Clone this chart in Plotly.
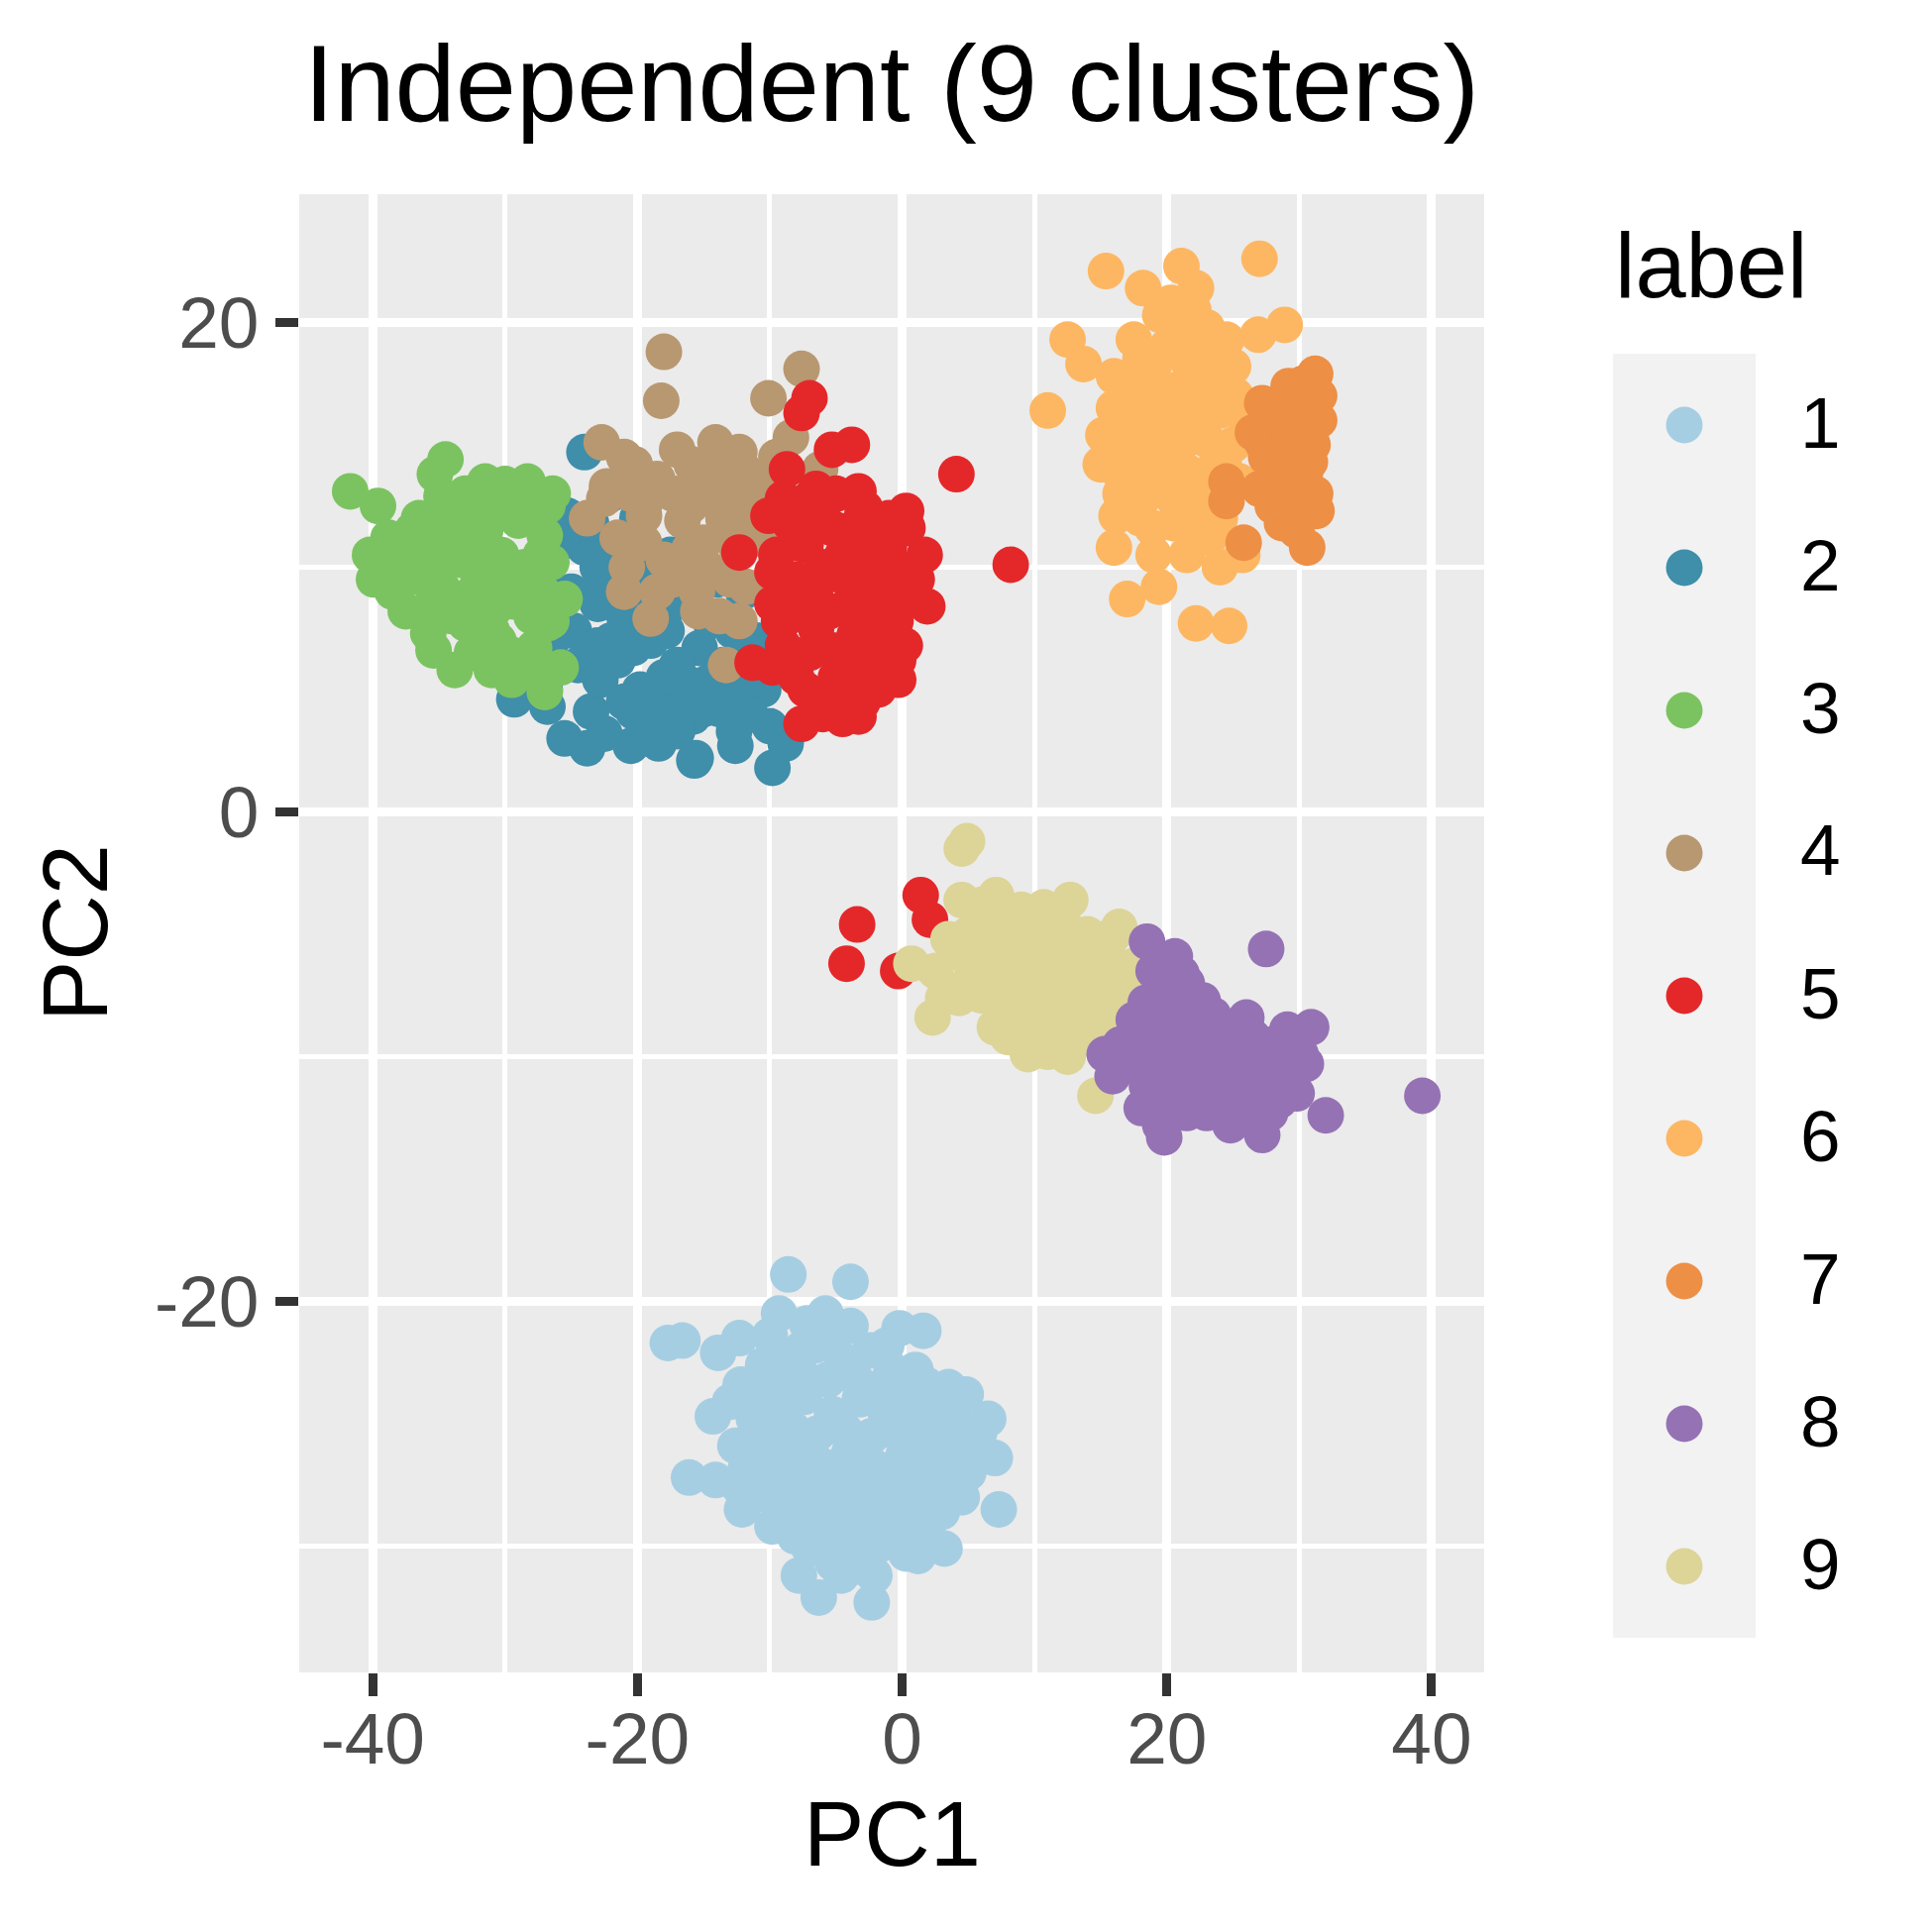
import plotly.graph_objects as go

W = H = 1950
FONT = "Liberation Sans, Arial, sans-serif"

# cluster labels and their colours (legend order)
cluster_labels = ["1", "2", "3", "4", "5", "6", "7", "8", "9"]
cluster_colors = ["#A6CEE3", "#3F8EAA", "#7BC360", "#B89871", "#E4282A",
                  "#FDB762", "#ED8F45", "#9572B4", "#DDD498"]

# PC1 / PC2 coordinates, one pair of lists per cluster
pc1_1 = [-8.6, -3.9, -9.3, -5.8, -3.9, -0.2, 1.6, -17.7, -16.6, -13.9, -12.3, -12.2, -14.3, -16.1, -14.1, -12.1,
         7.3, 7.0, 6.5, 4.8, 2.9, 0.2, -7.8, -6.3, -2.3, -2.1, 3.2, 1.2, -4.6, -8.1, 1.0,
         -10.5, -8.5, -6.6, -4.5, -2.4, -0.8, 1.8, -11.2, -9.3, -7.4, -5.3, -3.2, -1.2, 0.9, 3.1, 5.0,
         -10.3, -8.2, -6.1, -4.0, -2.0, 0.1, 2.2, 4.1, -11.0, -9.1, -6.9, -4.8, -3.1, -1.0, 0.6, 3.0, 5.0,
         -6.0, -4.1, -1.9, -0.2, -8.4, -12.6, -13.0, -7.2, -10.0, 1.0, 4.0, -5.0, -9.8, -3.5, 1.9,
         -9.5, -7.6, -5.6, -3.6, -1.6, 0.4, 2.4, -10.2, -8.3, -6.4, -4.3, -2.3, -0.3, 1.8, 3.6,
         -9.4, -7.3, -5.3, -3.2, -1.2, 0.8, 2.8, 4.6, -8.0, -6.2, -4.2, -2.2, -0.4, 1.5,
         -5.2, -7.0, -2.8, 0.3, -11.8, -11.8, -12.3, -7.5, -4.8, -1.2, 3.5, 5.8, 4.5]
pc2_1 = [-18.9, -19.2, -20.5, -20.5, -21.0, -21.1, -21.2, -21.7, -21.6, -22.1, -21.5, -23.4, -24.7, -27.2, -27.3, -28.5,
         -28.5, -26.4, -24.8, -23.8, -24.2, -23.0, -31.2, -32.1, -32.3, -31.2, -30.1, -30.4, -31.2, -29.6, -28.9,
         -22.6, -22.2, -21.8, -22.4, -22.0, -22.8, -23.4, -24.8, -24.3, -23.9, -24.6, -24.0, -24.7, -25.1, -25.6, -26.2,
         -26.6, -26.1, -26.7, -26.2, -26.8, -26.3, -27.1, -27.6, -27.9, -28.4, -28.1, -28.6, -28.0, -28.7, -27.8, -28.6, -27.0,
         -30.1, -29.6, -30.0, -29.4, -27.2, -25.9, -24.1, -20.9, -21.4, -22.8, -24.9, -27.5, -29.2, -30.5, -29.4,
         -23.3, -23.0, -23.2, -23.1, -23.5, -24.0, -24.9, -25.6, -25.2, -25.4, -25.3, -25.5, -25.4, -26.0, -26.6,
         -27.4, -27.0, -27.2, -27.3, -27.4, -27.2, -27.8, -26.0, -29.0, -29.2, -28.9, -29.1, -28.8, -28.4,
         -30.7, -30.1, -30.9, -30.3, -23.8, -26.8, -27.6, -21.9, -21.2, -21.8, -23.5, -25.4, -28.0]

pc1_2 = [-24.0, -22.0, -26.8, -29.3, -26.8, -25.5, -23.8, -20.5, -18.4, -15.7, -15.8, -12.7, -12.6, -8.8, -9.8,
         -23.5, -20.3, -17.8, -14.6, -24.8, -22.8, -20.3, -17.8, -15.3, -12.8, -16.6, -19.0, -21.5, -24.0, -25.3,
         -15.6, -12.6, -14.6, -11.8,
         -26.0, -25.0, -23.0, -21.0, -19.0, -18.0, -16.0, -13.5, -11.0, -10.5, -21.5, -23.5, -20.0, -17.5,
         -14.0, -12.0, -27.5, -28.0, -22.5, -19.2, -10.0, -13.8,
         -24.5, -22.0, -19.8, -17.0, -15.0, -13.0, -11.5, -23.0, -25.8, -22.5, -20.5, -18.2, -14.5, -12.2,
         -27.0, -26.2, -21.0, -17.0, -23.0, -19.0]
pc2_2 = [14.7, 13.0, 9.3, 4.6, 4.3, 3.0, 2.6, 2.7, 2.8, 2.1, 3.9, 3.3, 2.7, 2.8, 1.8,
         4.1, 4.1, 4.3, 5.0, 7.4, 5.4, 6.7, 7.4, 6.7, 7.4, 8.6, 10.1, 10.8, 10.8, 12.1,
         2.2, 3.5, 5.3, 5.8,
         6.0, 9.0, 8.5, 8.0, 8.5, 5.5, 5.2, 6.0, 7.0, 5.0, 6.2, 11.8, 12.0, 10.5,
         9.5, 9.0, 8.0, 6.0, 3.2, 3.4, 3.5, 4.2,
         6.0, 7.0, 5.0, 6.0, 4.2, 5.0, 4.0, 10.0, 11.0, 9.5, 9.0, 9.5, 7.8, 6.3,
         5.0, 7.2, 4.5, 3.3, 6.8, 7.0]

pc1_3 = [-41.7, -39.6, -34.5, -35.3, -34.8, -32.2, -30.0, -28.3, -26.4, -38.8, -40.2, -39.9, -37.5, -35.8, -35.4,
         -36.0, -33.0, -32.0, -29.5, -27.0, -25.5, -25.8, -27.8, -31.5, -29.0, -27.3, -30.3, -33.3, -29.3, -32.8,
         -34.8, -37.3, -31.0, -26.8, -27.8,
         -33.5, -31.0, -29.5, -28.0, -30.5, -36.8, -38.0, -34.0, -30.8, -27.0, -26.5, -28.8, -32.5,
         -36.5, -35.0, -33.0, -31.5, -29.5, -28.0, -26.8, -38.5, -35.5, -34.0, -31.8, -30.0, -28.5, -27.2,
         -33.8, -31.0, -29.8, -27.5, -36.0, -32.0, -26.5, -34.8, -37.0]
pc2_3 = [13.1, 12.5, 14.4, 13.8, 12.9, 12.7, 13.4, 13.5, 13.0, 11.2, 10.5, 9.5, 8.2, 7.3, 6.6,
         11.1, 7.7, 9.5, 5.4, 4.9, 8.7, 5.9, 6.7, 11.5, 11.9, 10.5, 10.5, 10.3, 8.6, 8.8,
         9.2, 10.4, 7.4, 7.7, 12.4,
         11.8, 12.5, 9.5, 8.0, 7.0, 9.6, 10.0, 10.6, 8.3, 11.3, 10.2, 5.9, 6.5,
         12.0, 11.5, 13.0, 13.5, 12.8, 12.0, 12.5, 9.0, 8.5, 8.0, 9.8, 9.0, 10.0, 9.0,
         5.8, 5.8, 6.5, 6.0, 10.0, 11.0, 7.8, 12.0, 11.5]

pc1_4 = [-18.0, -18.2, -7.6, -10.1, -8.4, -22.7, -14.1, -12.3, -15.9, -20.2, -22.3, -6.2, -23.8, -21.5, -19.5,
         -17.3, -14.8, -12.8, -11.1, -10.3, -13.1, -16.6, -17.3, -21.0, -19.0, -15.4, -12.3, -11.8, -13.3, -14.8,
         -16.1, -18.0,
         -20.5, -18.5, -16.0, -13.5, -11.5, -15.0, -17.0, -19.5, -13.0, -10.5, -22.5, -15.5,
         -21.0, -17.0, -14.0, -12.0, -19.5, -16.0, -12.5, -18.5, -15.5, -20.8, -13.8, -9.5]
pc2_4 = [18.8, 16.8, 18.1, 16.9, 15.3, 15.1, 15.1, 14.7, 14.2, 14.2, 13.3, 14.0, 12.0, 11.2, 12.1,
         13.0, 13.1, 12.7, 13.0, 11.1, 11.3, 11.9, 9.5, 9.0, 7.9, 8.2, 7.8, 9.2, 6.0, 10.0,
         10.7, 10.3,
         13.0, 13.6, 13.0, 12.0, 11.8, 11.0, 10.0, 11.0, 9.5, 13.5, 12.8, 9.0,
         14.5, 14.8, 13.8, 14.0, 12.5, 12.5, 10.8, 9.0, 10.0, 10.0, 8.0, 14.5]

pc1_5 = [-7.0, -7.6, -5.3, -3.8, 4.1, 8.2, -8.7, -6.5, -3.3, -2.8, -10.1, 0.4, 1.7, 1.1, 1.9, -1.8, 0.2, -0.3,
         -3.3, -7.6, -11.3, -9.8, -7.3, -4.8, -2.3, -9.3, -7.3, -4.8, -2.3, -7.3, -12.3, -9.8, -3.6, -1.1, -5.3, -5.3,
         1.4, 2.1, -3.4, -4.2, -0.3,
         -6.0, -4.0, -2.0, -0.5, -8.5, -6.0, -3.5, -1.5, -8.0, -5.5, -3.0, -1.0, -7.0, -9.0, -4.0, -1.8, -6.0, 0.3, -9.8,
         -9.0, -7.0, -5.0, -3.0, -1.0, -8.0, -4.5, -1.0, 0.8, -9.5, -6.5, -4.0, -2.0, -0.5, -8.5, -6.5,
         -2.5, -0.3, -8.0, -5.0, -3.0, -4.5, -6.0]
pc2_5 = [16.9, 16.3, 14.8, 15.0, 13.8, 10.1, 14.0, 13.2, 13.1, 12.4, 12.1, 11.6, 10.5, 9.5, 8.4, 8.1, 6.8, 5.4,
         3.9, 3.6, 6.1, 5.9, 5.0, 4.8, 5.9, 7.8, 8.6, 9.7, 10.6, 10.9, 10.6, 9.8, 7.2, 8.9, 11.6, 6.6,
         -3.4, -4.4, -4.6, -6.2, -6.5,
         12.0, 11.5, 11.0, 10.0, 11.8, 10.0, 9.5, 9.5, 9.5, 8.2, 7.5, 7.0, 6.5, 6.8, 5.8, 5.0, 4.2, 12.3, 8.5,
         12.8, 12.8, 13.0, 12.2, 12.0, 11.0, 10.5, 10.8, 9.0, 10.5, 9.2, 8.5, 8.5, 7.8, 8.0, 7.5,
         6.5, 6.2, 5.5, 5.5, 4.5, 3.8, 4.0]

pc1_6 = [15.4, 18.2, 21.1, 22.2, 27.0, 20.9, 12.5, 13.7, 11.0, 26.9, 28.9, 16.2, 16.0, 17.0, 19.4, 22.2,
         24.7, 24.0, 18.9, 21.5, 25.7, 24.0,
         19.5, 21.0, 22.5, 20.0, 18.0, 21.5, 23.5, 25.0, 17.0, 19.0, 21.0, 23.0, 25.2, 16.0, 18.0, 20.0, 22.0,
         24.0, 26.0, 15.2, 17.0, 19.0, 21.0, 23.0, 25.0, 15.0, 17.5, 19.5, 21.5, 23.5, 16.5, 18.5, 20.5, 22.5,
         24.0, 18.0, 20.5, 22.0, 20.3, 22.0, 16.0, 24.5,
         17.5, 19.0, 23.0, 24.0, 16.5, 18.5, 20.5, 22.5, 24.3, 17.3, 19.5, 21.8, 23.2, 19.0, 25.5, 16.2]
pc2_6 = [22.1, 21.4, 22.3, 21.4, 22.6, 20.3, 19.3, 18.3, 16.4, 19.5, 19.9, 12.1, 10.8, 8.7, 9.2, 7.7,
         7.6, 10.0, 11.6, 10.5, 10.5, 12.0,
         20.3, 19.8, 19.5, 19.0, 18.5, 18.5, 18.6, 18.2, 17.5, 17.6, 17.3, 17.5, 17.0, 16.5, 16.3, 16.4, 16.2,
         16.4, 16.0, 15.4, 15.2, 15.3, 15.0, 15.2, 15.0, 14.2, 14.0, 14.2, 13.9, 14.0, 13.0, 13.0, 12.8, 13.0,
         12.7, 12.0, 11.8, 11.5, 20.8, 20.5, 17.8, 19.3,
         19.3, 18.2, 19.8, 17.0, 15.0, 14.8, 15.7, 15.9, 14.2, 12.7, 13.4, 12.2, 11.2, 10.5, 13.5, 14.0]

pc1_7 = [31.2, 29.2, 31.5, 27.2, 30.5, 27.2, 29.2, 30.5, 31.2, 27.7, 29.7, 28.7, 30.6, 24.5, 24.5, 25.8,
         27.0, 28.2, 29.5, 28.5, 30.0, 28.5, 29.5, 31.0,
         30.3, 31.5, 30.8, 31.3, 28.0, 29.8, 27.5, 26.5]
pc2_7 = [17.9, 17.4, 17.0, 16.7, 15.9, 15.1, 14.8, 14.0, 13.0, 13.0, 12.3, 11.8, 10.8, 13.5, 12.7, 11.0,
         13.2, 16.2, 16.3, 15.5, 13.5, 13.8, 12.8, 15.0,
         17.5, 16.0, 14.3, 12.3, 12.5, 11.5, 14.5, 15.5]

pc1_8 = [27.5, 39.3, 32.0, 27.2, 19.8, 18.1, 18.5, 20.6, 21.1, 22.7, 26.0, 30.9, 29.1, 30.1, 29.8, 27.2,
         24.5, 22.4, 15.3, 15.9, 18.4, 20.2, 22.9, 24.5,
         18.0, 19.5, 21.0, 22.5, 24.0, 19.0, 20.5, 22.0, 23.5, 25.5, 27.0, 18.5, 20.0, 21.5, 23.0, 25.0,
         26.5, 28.5, 17.0, 20.0, 21.5, 23.5, 25.0, 28.0, 30.5, 21.0, 19.0,
         17.5, 18.8, 20.5, 22.0, 24.2, 26.0, 27.8, 23.0, 19.5, 21.8, 24.8, 16.5, 29.0, 26.5]
pc2_8 = [-5.6, -11.6, -12.4, -13.2, -13.3, -12.1, -5.3, -5.9, -6.6, -7.7, -8.4, -8.8, -8.9, -9.9, -11.5, -10.5,
         -11.7, -12.0, -9.9, -10.8, -7.8, -9.2, -10.7, -9.6,
         -9.0, -8.2, -8.8, -9.3, -9.0, -10.2, -10.8, -10.3, -11.0, -10.8, -11.3, -11.2, -11.8, -12.3, -12.3, -12.1,
         -12.5, -11.8, -10.3, -7.2, -7.0, -8.3, -9.8, -9.5, -10.3, -9.5, -6.5,
         -8.5, -9.8, -10.0, -11.5, -10.4, -11.5, -12.3, -8.8, -12.8, -8.0, -12.8, -9.5, -10.8, -9.2]

pc1_9 = [4.9, 4.5, 0.7, 4.5, 7.1, 10.7, 12.7, 16.4, 2.3, 3.1, 4.3, 8.0, 9.5, 12.9, 16.2, 14.6, 18.1, 17.5,
         5.0, 6.5, 8.0, 9.5, 11.0, 12.5, 14.0, 15.5, 5.5, 7.0, 8.5, 10.0, 11.5, 13.0, 14.5, 16.0,
         6.0, 7.5, 9.0, 10.5, 12.0, 13.5, 15.0, 17.0, 7.0, 8.5, 10.0, 11.5, 13.0, 14.5, 9.5, 11.0, 12.5,
         3.5, 2.5, 18.5,
         6.0, 7.8, 9.2, 10.8, 12.3, 13.8, 15.2, 6.8, 8.3, 9.8, 11.2, 12.7, 14.2, 8.0, 9.6, 11.0, 12.4, 13.9,
         4.5, 5.0, 10.5, 16.0, 9.0, 6.0]
pc2_9 = [-1.2, -1.5, -6.2, -3.6, -3.4, -3.9, -3.6, -4.7, -8.4, -7.6, -7.6, -9.2, -9.6, -9.5, -8.8, -11.6, -7.2, -6.3,
         -5.0, -4.5, -4.8, -4.3, -4.6, -4.8, -5.0, -5.5, -6.3, -6.0, -6.3, -5.9, -6.2, -6.5, -6.3, -6.8,
         -7.5, -7.3, -7.7, -7.4, -7.8, -7.6, -8.0, -8.0, -8.8, -8.6, -9.0, -8.7, -9.0, -9.2, -9.9, -9.8, -10.0,
         -5.2, -6.5, -6.5,
         -5.5, -5.5, -5.2, -5.3, -5.6, -5.8, -7.0, -6.8, -7.0, -6.7, -7.0, -7.1, -7.0, -8.0, -8.3, -8.2, -8.4, -8.3,
         -5.8, -7.0, -9.3, -5.0, -4.0, -3.8]

pc1_by_label = {"1": pc1_1, "2": pc1_2, "3": pc1_3, "4": pc1_4, "5": pc1_5,
                "6": pc1_6, "7": pc1_7, "8": pc1_8, "9": pc1_9}
pc2_by_label = {"1": pc2_1, "2": pc2_2, "3": pc2_3, "4": pc2_4, "5": pc2_5,
                "6": pc2_6, "7": pc2_7, "8": pc2_8, "9": pc2_9}

# order the groups are painted in (later ones sit on top)
draw_order = ["1", "2", "3", "4", "5", "9", "8", "6", "7"]

x_ticks = [-40, -20, 0, 20, 40]
x_tick_labels = ["-40", "-20", "0", "20", "40"]
x_minor = [-30, -10, 10, 30]
y_ticks = [-20, 0, 20]
y_tick_labels = ["-20", "0", "20"]
y_minor = [-30, -10, 10]

# page geometry in pixels
PANEL_L, PANEL_R, PANEL_T, PANEL_B = 302, 1498, 196, 1688
KEY_L, KEY_R, KEY_T, KEY_H = 1628, 1772, 357, 144
LABEL_X = 1815


def px(x):
    return x / W


def py(y):
    return 1 - y / H


fig = go.Figure()

for lab in draw_order:
    i = cluster_labels.index(lab)
    fig.add_trace(go.Scatter(
        x=pc1_by_label[lab], y=pc2_by_label[lab],
        mode="markers", name=lab,
        marker=dict(color=cluster_colors[i], size=37, line=dict(width=0)),
        showlegend=False,
    ))

# legend keys drawn on their own small hidden axes
key_pos = list(range(1, len(cluster_labels) + 1))
fig.add_trace(go.Scatter(
    x=[0] * len(cluster_labels), y=key_pos, xaxis="x2", yaxis="y2",
    mode="markers", marker=dict(color=cluster_colors, size=37, line=dict(width=0)),
    showlegend=False, hoverinfo="skip",
))

key_bottom = KEY_T + KEY_H * len(cluster_labels)

shapes = [
    dict(type="rect", xref="paper", yref="paper", layer="below",
         x0=px(PANEL_L), x1=px(PANEL_R), y0=py(PANEL_B), y1=py(PANEL_T),
         fillcolor="#EBEBEB", line=dict(width=0)),
    dict(type="rect", xref="paper", yref="paper", layer="below",
         x0=px(KEY_L), x1=px(KEY_R), y0=py(key_bottom), y1=py(KEY_T),
         fillcolor="#F2F2F2", line=dict(width=0)),
]

annotations = [
    dict(text="PC1", x=px(900), y=py(1851), xref="paper", yref="paper",
         xanchor="center", yanchor="middle", showarrow=False,
         font=dict(family=FONT, size=92, color="black")),
    dict(text="PC2", x=px(76), y=py(942), xref="paper", yref="paper",
         xanchor="center", yanchor="middle", showarrow=False, textangle=-90,
         font=dict(family=FONT, size=92, color="black")),
    dict(text="label", x=px(KEY_L), y=py(268), xref="paper", yref="paper",
         xanchor="left", yanchor="middle", showarrow=False,
         font=dict(family=FONT, size=92, color="black")),
]
for k, lab in enumerate(cluster_labels):
    annotations.append(dict(
        text=lab, x=px(LABEL_X), y=py(KEY_T + KEY_H * (k + 0.5) - 3), xref="paper", yref="paper",
        xanchor="left", yanchor="middle", showarrow=False,
        font=dict(family=FONT, size=73, color="black")))

axis_common = dict(
    tickmode="array", ticks="outside", ticklen=23, tickwidth=9, tickcolor="#333333",
    tickfont=dict(family=FONT, size=73, color="#4D4D4D"),
    showgrid=True, gridcolor="white", gridwidth=9,
    zeroline=False, showline=False, fixedrange=True,
)

fig.update_layout(
    width=W, height=H,
    margin=dict(l=0, r=0, t=0, b=0),
    paper_bgcolor="white", plot_bgcolor="rgba(0,0,0,0)",
    showlegend=False,
    font=dict(family=FONT),
    title=dict(text="Independent (9 clusters)", x=px(900), xanchor="center",
               y=py(83), yanchor="middle", yref="container",
               font=dict(family=FONT, size=110, color="black")),
    xaxis=dict(domain=[px(PANEL_L), px(PANEL_R)], range=[-45.55, 43.97],
               tickvals=x_ticks, ticktext=x_tick_labels, ticklabelstandoff=-20,
               minor=dict(tickvals=x_minor, showgrid=True, gridcolor="white", gridwidth=4.5, ticks=""),
               **axis_common),
    yaxis=dict(domain=[py(PANEL_B), py(PANEL_T)], range=[-35.16, 25.24],
               tickvals=y_ticks, ticktext=y_tick_labels, ticklabelstandoff=2,
               minor=dict(tickvals=y_minor, showgrid=True, gridcolor="white", gridwidth=4.5, ticks=""),
               **axis_common),
    xaxis2=dict(domain=[px(KEY_L), px(KEY_R)], range=[-1, 1], visible=False, fixedrange=True),
    yaxis2=dict(domain=[py(key_bottom), py(KEY_T)], range=[len(cluster_labels) + 0.5, 0.5],
                visible=False, fixedrange=True),
    shapes=shapes,
    annotations=annotations,
)

# drop the browser's default page margin so the figure sits at the window corner
fig.write_html("out.html", config={"displayModeBar": False},
               post_script="document.body.style.margin = '0px';")
